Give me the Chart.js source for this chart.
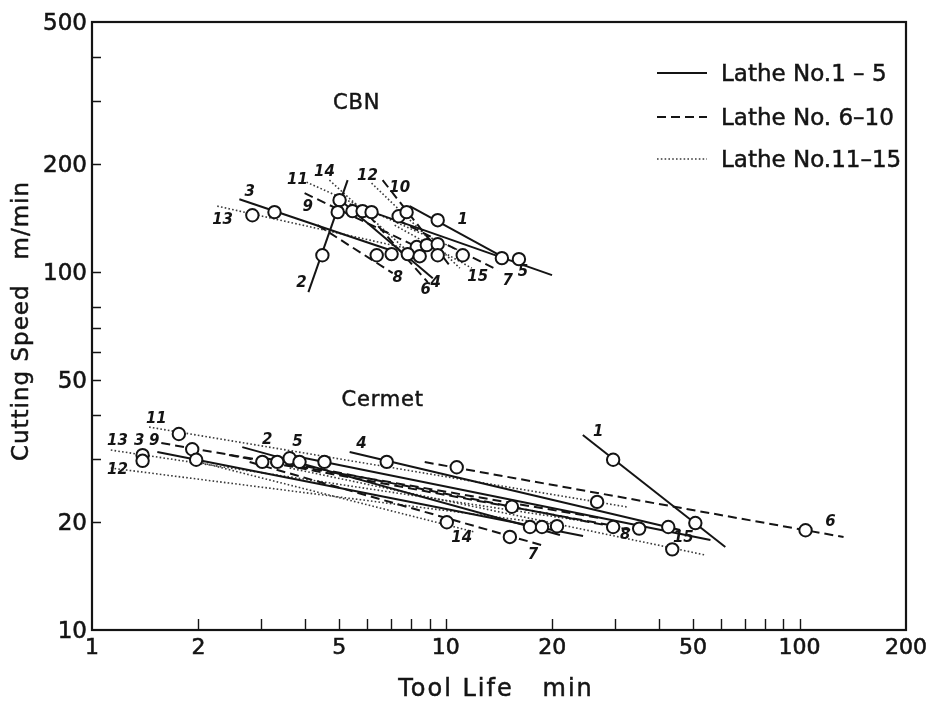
<!DOCTYPE html>
<html>
<head>
<meta charset="utf-8">
<title>Tool life of CBN and Cermet tools</title>
<script src="https://cdn.jsdelivr.net/npm/chart.js@4.4.0/dist/chart.umd.min.js"></script>
<style>
  html, body { margin: 0; padding: 0; background: #fff; }
  #wrap { width: 931px; height: 702px; }
</style>
</head>
<body>
<div id="wrap"><canvas id="c" width="931" height="702"></canvas></div>
<script>
// Axis ticks (log–log plot)
const xTickMarks = [2, 3, 4, 5, 6, 7, 8, 9, 10, 20, 30, 40, 50, 60, 70, 80, 90, 100];
const xTickLabels = [1, 2, 5, 10, 20, 50, 100, 200];
const yTickMarks = [20, 30, 40, 50, 60, 70, 80, 100, 200, 300, 400];
const yTickLabels = [10, 20, 50, 100, 200, 500];

// Tool-life lines per lathe No. 1..15: [[T start, V start], [T end, V end]]  (T in min, V in m/min)
const cbnLines = [
  [[7.91, 152.9], [14.7, 109.4]],
  [[5.28, 180.7], [4.09, 87.9]],
  [[2.61, 159.9], [7.26, 113.7]],
  [[4.85, 164.1], [9.19, 96.2]],
  [[5.35, 154.9], [19.97, 98.1]],
  [[5.71, 153.9], [8.89, 93.8]],
  [[7.31, 139.7], [14.04, 101.3]],
  [[4.34, 135.3], [7.08, 99.4]],
  [[3.99, 166.2], [8.44, 116.7]],
  [[6.63, 180.7], [10.40, 102.6]],
  [[4.04, 178.4], [11.70, 111.5]],
  [[6.17, 177.3], [10.96, 102.6]],
  [[2.26, 152.9], [8.17, 115.2]],
  [[4.69, 180.7], [8.44, 106.6]],
  [[7.17, 135.3], [11.85, 102.6]]
];
const cermetLines = [
  [[24.4, 35.05], [61.7, 17.05]],
  [[2.66, 32.44], [21.03, 18.42]],
  [[1.53, 31.42], [24.44, 18.30]],
  [[5.35, 31.42], [46.0, 19.03]],
  [[3.62, 30.82], [56.0, 17.84]],
  [[8.72, 29.46], [133.2, 18.19]],
  [[2.79, 29.46], [19.08, 17.16]],
  [[3.07, 30.23], [33.2, 19.03]],
  [[1.57, 33.29], [27.3, 20.55]],
  [[2.44, 30.82], [31.1, 19.40]],
  [[1.45, 36.90], [32.6, 22.06]],
  [[1.13, 28.35], [21.03, 19.65]],
  [[1.13, 31.83], [25.6, 20.03]],
  [[2.01, 29.46], [12.08, 18.78]],
  [[3.62, 28.35], [54.2, 16.20]]
];

// Measured test points [T, V]
const cbnTests = [
  [2.84, 144.2], [3.28, 147.1], [5.01, 158.9], [4.95, 147.1], [5.45, 148.1],
  [5.82, 148.1], [6.17, 147.1], [4.48, 111.5], [6.38, 111.5], [7.03, 112.3],
  [7.36, 143.3], [7.75, 147.1], [9.49, 139.7], [8.28, 117.5], [8.84, 119.0],
  [9.49, 119.7], [7.81, 112.3], [8.44, 110.8], [9.49, 111.5], [11.17, 111.5],
  [14.41, 109.4], [16.10, 108.7]
];
const cermetTests = [
  [1.76, 35.3], [1.92, 32.0], [1.97, 29.9], [1.39, 30.8], [1.39, 29.7],
  [3.03, 29.5], [3.34, 29.5], [3.62, 30.2], [3.86, 29.5], [4.54, 29.5],
  [6.81, 29.5], [10.74, 28.5], [10.07, 20.0], [15.38, 22.1], [15.18, 18.2],
  [17.30, 19.4], [18.71, 19.4], [20.63, 19.5], [26.78, 22.8], [29.73, 29.9],
  [29.73, 19.4], [35.22, 19.2], [42.56, 19.4], [43.68, 16.8], [50.76, 19.9],
  [104.0, 19.0]
];

// Lathe number tags [text, T, V]
const cbnTags = [
  ['1', 11.17, 139.7], ['2', 3.91, 93.2], ['3', 2.79, 167.3], ['4', 9.37, 93.2],
  ['5', 16.52, 100.0], ['6', 8.78, 89.1], ['7', 14.98, 94.4], ['8', 7.31, 96.2],
  ['9', 4.07, 151.9], ['10', 7.41, 171.7], ['11', 3.81, 180.7], ['12', 6.01, 185.4],
  ['13', 2.34, 139.7], ['14', 4.54, 190.2], ['15', 12.32, 96.8]
];
const cermetTags = [
  ['1', 26.96, 35.73], ['2', 3.13, 33.94], ['3', 1.36, 33.72], ['4', 5.78, 33.08],
  ['5', 3.81, 33.50], ['6', 122.4, 20.03], ['7', 17.64, 16.20], ['8', 32.14, 18.42],
  ['9', 1.50, 33.72], ['11', 1.52, 38.86], ['12', 1.18, 27.99], ['13', 1.18, 33.72],
  ['14', 11.10, 18.07], ['15', 46.94, 18.07]
];
const groupNames = ['CBN', 'Cermet'];
const groupPos = [[5.60, 296.6], [6.63, 43.9]];
const legendNames = ['Lathe No.1 \u2013 5', 'Lathe No. 6\u201310', 'Lathe No.11\u201315'];

const INK = '#141414';
const FONT = "'DejaVu Sans', 'Liberation Sans', sans-serif";

// line style by lathe number: 1-5 solid, 6-10 dashed, 11-15 dotted
function latheStyle(i) {
  if (i < 5) return { borderDash: [], borderWidth: 2, borderColor: INK };
  if (i < 10) return { borderDash: [9, 5], borderWidth: 2, borderColor: INK };
  return { borderDash: [1.6, 2.2], borderWidth: 1.6, borderColor: '#3a3a3a' };
}

const datasets = [];
[cbnTests, cermetTests].forEach((pts, k) => {
  datasets.push({
    label: groupNames[k] + ' tests',
    data: pts.map(p => ({ x: p[0], y: p[1] })),
    showLine: false,
    pointRadius: 6.2,
    pointBorderWidth: 2,
    pointBorderColor: INK,
    pointBackgroundColor: '#fff',
    order: 0
  });
});
[cbnLines, cermetLines].forEach((lines, k) => {
  lines.forEach((seg, i) => {
    datasets.push(Object.assign({
      label: groupNames[k] + ' lathe ' + (i + 1),
      data: seg.map(p => ({ x: p[0], y: p[1] })),
      showLine: true,
      pointRadius: 0,
      fill: false,
      tension: 0,
      order: 1
    }, latheStyle(i)));
  });
});

// slightly heavier text, like print
function inkText(ctx, s, x, y, spacing) {
  ctx.letterSpacing = (spacing || 0) + 'px';
  ctx.fillText(s, x, y);
  ctx.strokeText(s, x, y);
  ctx.letterSpacing = '0px';
}

const decor = {
  id: 'decor',
  beforeDatasetsDraw(chart) {
    const { ctx, chartArea: a } = chart;
    const xs = chart.scales.x, ys = chart.scales.y;
    ctx.save();
    ctx.strokeStyle = INK;
    ctx.lineWidth = 1.4;
    ctx.beginPath();
    xTickMarks.forEach(v => {
      const px = Math.round(xs.getPixelForValue(v)) + 0.5;
      ctx.moveTo(px, a.bottom); ctx.lineTo(px, a.bottom - 11);
    });
    yTickMarks.forEach(v => {
      const py = Math.round(ys.getPixelForValue(v)) + 0.5;
      ctx.moveTo(a.left, py); ctx.lineTo(a.left + 9, py);
    });
    ctx.stroke();
    ctx.lineWidth = 2.2;
    ctx.strokeRect(a.left, a.top, a.right - a.left, a.bottom - a.top);

    // tick labels
    ctx.fillStyle = INK;
    ctx.lineWidth = 0.6;
    ctx.textBaseline = 'middle';
    ctx.font = '22px ' + FONT;
    ctx.textAlign = 'center';
    xTickLabels.forEach(v => inkText(ctx, String(v), xs.getPixelForValue(v), a.bottom + 18));
    ctx.font = '23px ' + FONT;
    ctx.textAlign = 'right';
    yTickLabels.forEach(v => inkText(ctx, String(v), a.left - 5, ys.getPixelForValue(v) + 2));
    ctx.restore();
  },
  afterDatasetsDraw(chart) {
    const { ctx } = chart;
    const xs = chart.scales.x, ys = chart.scales.y;
    ctx.save();
    ctx.fillStyle = INK;
    ctx.strokeStyle = INK;
    ctx.lineWidth = 0.5;
    ctx.textAlign = 'center';
    ctx.textBaseline = 'middle';
    // lathe number tags
    ctx.font = 'italic bold 15px ' + FONT;
    cbnTags.concat(cermetTags).forEach(t => {
      ctx.fillText(t[0], xs.getPixelForValue(t[1]), ys.getPixelForValue(t[2]));
    });
    // tool material names
    ctx.font = '21px ' + FONT;
    groupNames.forEach((n, k) => {
      inkText(ctx, n, xs.getPixelForValue(groupPos[k][0]), ys.getPixelForValue(groupPos[k][1]), 0.8);
    });
    // axis titles
    ctx.font = '24px ' + FONT;
    inkText(ctx, 'Tool Life   min', 496, 690, 2);
    ctx.save();
    ctx.translate(22, 321);
    ctx.rotate(-Math.PI / 2);
    ctx.font = '23px ' + FONT;
    inkText(ctx, 'Cutting Speed   m/min', 0, 0, 1);
    ctx.restore();
    // key
    const rowsY = [73, 117, 159];
    ctx.textAlign = 'left';
    ctx.font = '23px ' + FONT;
    rowsY.forEach((y, r) => {
      const st = latheStyle(r * 5);
      ctx.save();
      ctx.strokeStyle = st.borderColor;
      ctx.lineWidth = st.borderWidth;
      ctx.setLineDash(st.borderDash);
      ctx.beginPath();
      ctx.moveTo(657, y); ctx.lineTo(707, y);
      ctx.stroke();
      ctx.restore();
      inkText(ctx, legendNames[r], 721, y + 2);
    });
    ctx.restore();
  }
};

new Chart(document.getElementById('c'), {
  type: 'scatter',
  data: { datasets },
  options: {
    responsive: false,
    animation: false,
    events: [],
    devicePixelRatio: 1,
    layout: { padding: { top: 22, right: 25, left: 0, bottom: 0 } },
    plugins: { legend: { display: false }, tooltip: { enabled: false } },
    scales: {
      x: {
        type: 'logarithmic', min: 1, max: 200,
        grid: { display: false, drawTicks: false },
        border: { display: false },
        ticks: { display: false },
        afterFit: s => { s.height = 72; }
      },
      y: {
        type: 'logarithmic', min: 10, max: 500,
        grid: { display: false, drawTicks: false },
        border: { display: false },
        ticks: { display: false },
        afterFit: s => { s.width = 92; }
      }
    }
  },
  plugins: [decor]
});
</script>
</body>
</html>
